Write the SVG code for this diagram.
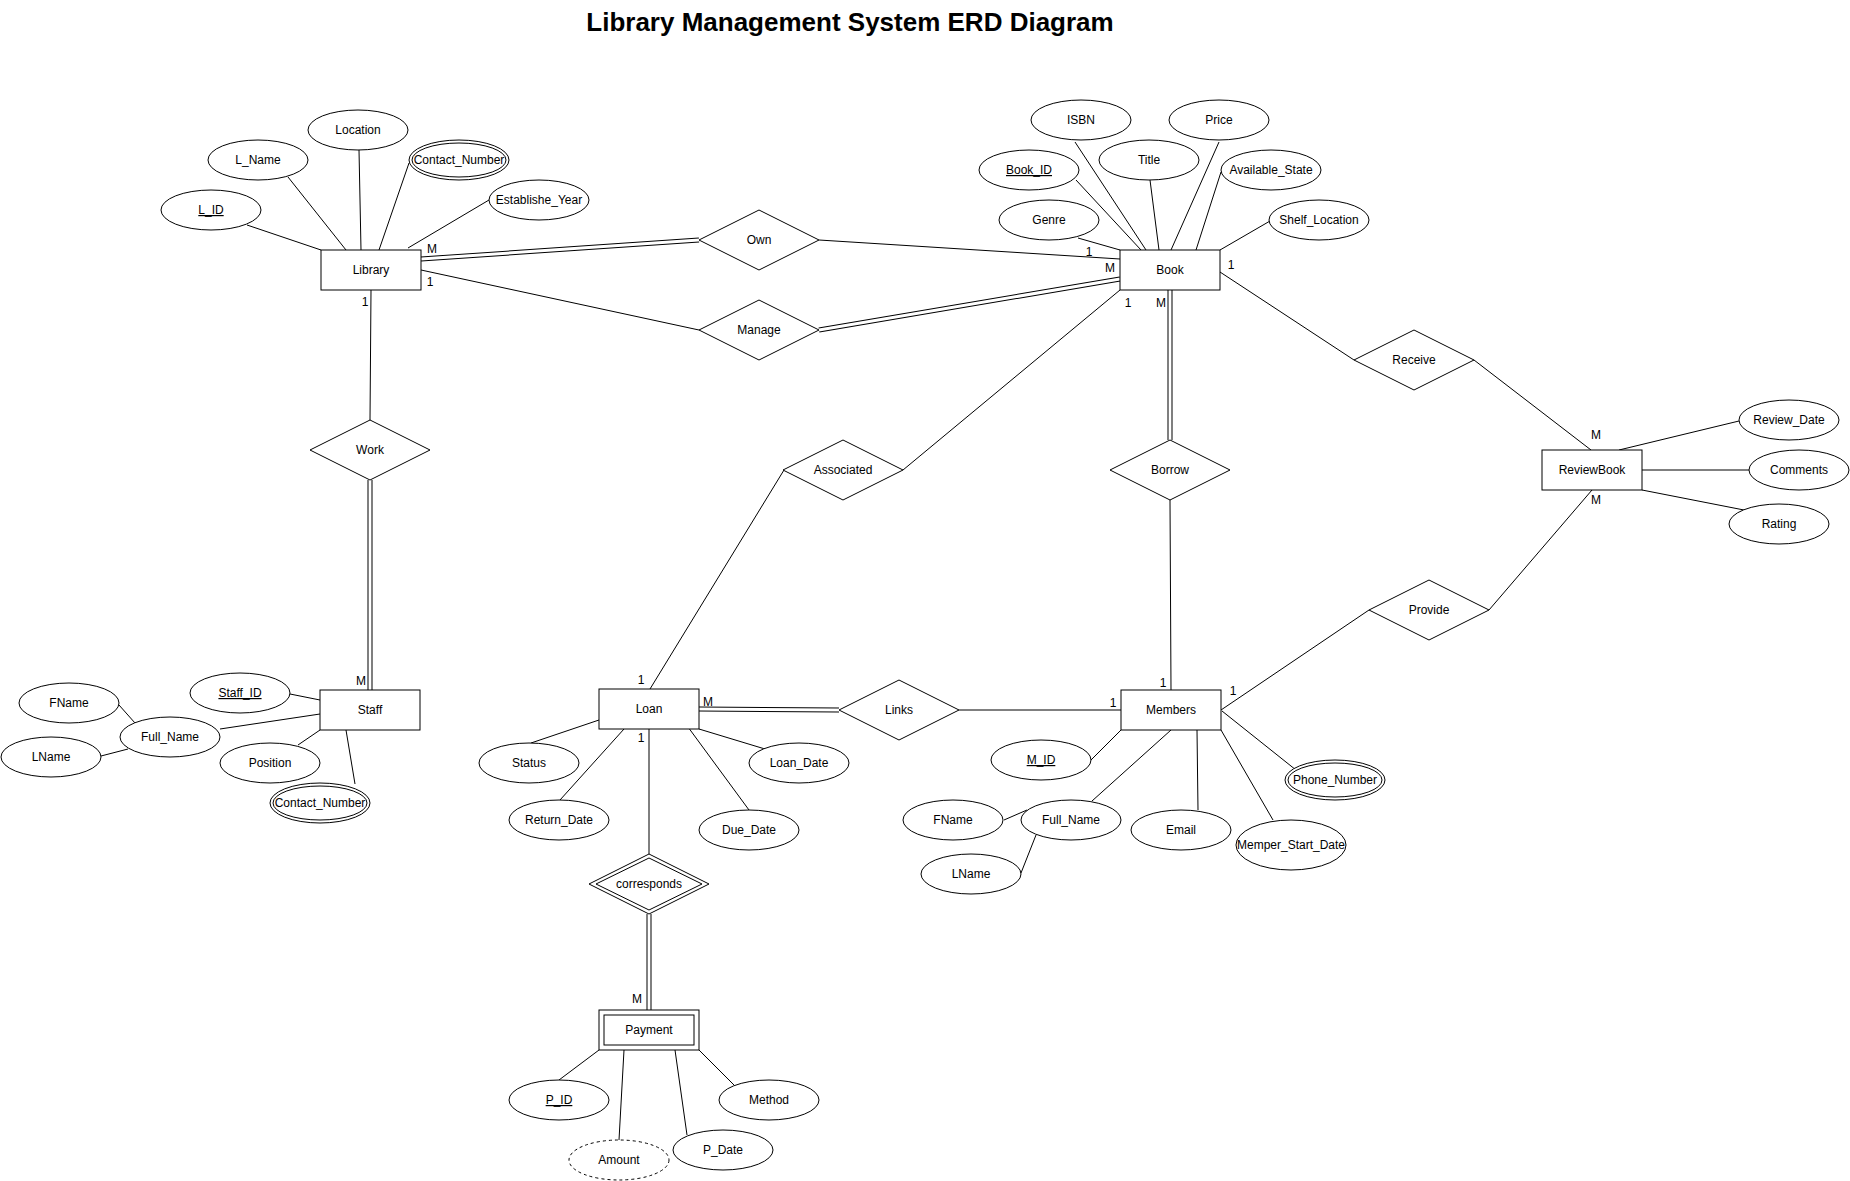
<svg xmlns="http://www.w3.org/2000/svg" width="1850" height="1181" viewBox="0 0 1850 1181">
<style>
.bg{fill:#fff}
.e{fill:#fff;stroke:#000;stroke-width:1}
.dash{stroke-dasharray:3 3}
.t{font-family:"Liberation Sans",Arial,Helvetica,sans-serif;font-size:12px;fill:#000;text-anchor:middle}
.k{text-decoration:underline}
.title{font-family:"Liberation Sans",Arial,Helvetica,sans-serif;font-size:26px;font-weight:bold;fill:#000;text-anchor:middle}
.ln{stroke:#000;stroke-width:1;fill:none}
.dbo{stroke:#000;stroke-width:5;fill:none}
.dbi{stroke:#fff;stroke-width:3;fill:none}
</style>
<rect class="bg" x="0" y="0" width="1850" height="1181"/>
<text class="title" x="850" y="31">Library Management System ERD Diagram</text>

<g id="connectors">
  <!-- Library attributes -->
  <line class="ln" x1="247" y1="225" x2="321" y2="250"/>
  <line class="ln" x1="288" y1="177" x2="346" y2="250"/>
  <line class="ln" x1="359" y1="150" x2="361" y2="250"/>
  <line class="ln" x1="409" y1="163" x2="379" y2="250"/>
  <line class="ln" x1="489" y1="200" x2="408" y2="248"/>
  <!-- Library relations -->
  <line class="dbo" x1="421" y1="259" x2="699" y2="240"/>
  <line class="dbi" x1="421" y1="259" x2="699" y2="240"/>
  <line class="ln" x1="421" y1="270" x2="699" y2="330"/>
  <line class="ln" x1="371" y1="290" x2="370" y2="420"/>
  <!-- Book relations -->
  <line class="ln" x1="819" y1="240" x2="1120" y2="259"/>
  <line class="dbo" x1="819" y1="330" x2="1120" y2="279"/>
  <line class="dbi" x1="819" y1="330" x2="1120" y2="279"/>
  <!-- Book attributes -->
  <line class="ln" x1="1078" y1="238" x2="1120" y2="250"/>
  <line class="ln" x1="1076" y1="180" x2="1141" y2="250"/>
  <line class="ln" x1="1075" y1="142" x2="1146" y2="250"/>
  <line class="ln" x1="1150" y1="180" x2="1159" y2="250"/>
  <line class="ln" x1="1219" y1="142" x2="1171" y2="250"/>
  <line class="ln" x1="1221" y1="172" x2="1196" y2="250"/>
  <line class="ln" x1="1270" y1="221" x2="1220" y2="250"/>
  <line class="ln" x1="903" y1="470" x2="1120" y2="290"/>
  <line class="dbo" x1="1170" y1="290" x2="1170" y2="440"/>
  <line class="dbi" x1="1170" y1="290" x2="1170" y2="440"/>
  <line class="ln" x1="1220" y1="272" x2="1354" y2="360"/>
  <!-- ReviewBook -->
  <line class="ln" x1="1474" y1="360" x2="1591" y2="450"/>
  <line class="ln" x1="1619" y1="450" x2="1739" y2="421"/>
  <line class="ln" x1="1642" y1="470" x2="1749" y2="470"/>
  <line class="ln" x1="1642" y1="490" x2="1744" y2="510"/>
  <line class="ln" x1="1489" y1="610" x2="1592" y2="490"/>
  <!-- Members -->
  <line class="ln" x1="1170" y1="500" x2="1171" y2="690"/>
  <line class="ln" x1="959" y1="710" x2="1121" y2="710"/>
  <line class="ln" x1="1221" y1="710" x2="1369" y2="610"/>
  <line class="ln" x1="1091" y1="760" x2="1121" y2="730"/>
  <line class="ln" x1="1171" y1="730" x2="1092" y2="801"/>
  <line class="ln" x1="1197" y1="730" x2="1198" y2="810"/>
  <line class="ln" x1="1221" y1="730" x2="1273" y2="820"/>
  <line class="ln" x1="1222" y1="711" x2="1296" y2="770"/>
  <line class="ln" x1="1004" y1="820" x2="1027" y2="810"/>
  <line class="ln" x1="1021" y1="873" x2="1036" y2="835"/>
  <!-- Loan -->
  <line class="ln" x1="784" y1="470" x2="650" y2="689"/>
  <line class="dbo" x1="699" y1="709" x2="839" y2="710"/>
  <line class="dbi" x1="699" y1="709" x2="839" y2="710"/>
  <line class="ln" x1="531" y1="743" x2="599" y2="720"/>
  <line class="ln" x1="699" y1="729" x2="765" y2="749"/>
  <line class="ln" x1="624" y1="729" x2="560" y2="800"/>
  <line class="ln" x1="688" y1="727" x2="749" y2="810"/>
  <line class="ln" x1="649" y1="729" x2="649" y2="854"/>
  <line class="dbo" x1="649" y1="914" x2="649" y2="1010"/>
  <line class="dbi" x1="649" y1="914" x2="649" y2="1010"/>
  <!-- Payment -->
  <line class="ln" x1="559" y1="1080" x2="599" y2="1050"/>
  <line class="ln" x1="624" y1="1050" x2="619" y2="1140"/>
  <line class="ln" x1="675" y1="1050" x2="687" y2="1135"/>
  <line class="ln" x1="699" y1="1050" x2="734" y2="1085"/>
  <!-- Staff -->
  <line class="dbo" x1="370" y1="480" x2="370" y2="690"/>
  <line class="dbi" x1="370" y1="480" x2="370" y2="690"/>
  <line class="ln" x1="290" y1="694" x2="320" y2="700"/>
  <line class="ln" x1="220" y1="729" x2="320" y2="714"/>
  <line class="ln" x1="119" y1="705" x2="135" y2="723"/>
  <line class="ln" x1="101" y1="756" x2="128" y2="749"/>
  <line class="ln" x1="298" y1="745" x2="320" y2="730"/>
  <line class="ln" x1="346" y1="730" x2="355" y2="784"/>
  <!-- cardinality labels -->
  <text class="t" x="432" y="253">M</text>
  <text class="t" x="430" y="286">1</text>
  <text class="t" x="365" y="306">1</text>
  <text class="t" x="1089" y="256">1</text>
  <text class="t" x="1110" y="272">M</text>
  <text class="t" x="1128" y="307">1</text>
  <text class="t" x="1161" y="307">M</text>
  <text class="t" x="1231" y="269">1</text>
  <text class="t" x="1596" y="439">M</text>
  <text class="t" x="1596" y="504">M</text>
  <text class="t" x="1163" y="687">1</text>
  <text class="t" x="1113" y="707">1</text>
  <text class="t" x="1233" y="695">1</text>
  <text class="t" x="641" y="684">1</text>
  <text class="t" x="708" y="706">M</text>
  <text class="t" x="641" y="742">1</text>
  <text class="t" x="361" y="685">M</text>
  <text class="t" x="637" y="1003">M</text>
</g>

<!-- Entities -->
<g id="library"><rect class="e" x="321" y="250" width="100" height="40"/><text class="t" x="371" y="274">Library</text></g>
<g id="book"><rect class="e" x="1120" y="250" width="100" height="40"/><text class="t" x="1170" y="274">Book</text></g>
<g id="reviewbook"><rect class="e" x="1542" y="450" width="100" height="40"/><text class="t" x="1592" y="474">ReviewBook</text></g>
<g id="staff"><rect class="e" x="320" y="690" width="100" height="40"/><text class="t" x="370" y="714">Staff</text></g>
<g id="loan"><rect class="e" x="599" y="689" width="100" height="40"/><text class="t" x="649" y="713">Loan</text></g>
<g id="members"><rect class="e" x="1121" y="690" width="100" height="40"/><text class="t" x="1171" y="714">Members</text></g>
<g id="payment"><rect class="e" x="599" y="1010" width="100" height="40"/><rect class="e" x="604" y="1015" width="90" height="30"/><text class="t" x="649" y="1034">Payment</text></g>

<!-- Relationships -->
<g id="own"><polygon class="e" points="759,210 819,240 759,270 699,240"/><text class="t" x="759" y="244">Own</text></g>
<g id="manage"><polygon class="e" points="759,300 819,330 759,360 699,330"/><text class="t" x="759" y="334">Manage</text></g>
<g id="work"><polygon class="e" points="370,420 430,450 370,480 310,450"/><text class="t" x="370" y="454">Work</text></g>
<g id="associated"><polygon class="e" points="843,440 903,470 843,500 783,470"/><text class="t" x="843" y="474">Associated</text></g>
<g id="borrow"><polygon class="e" points="1170,440 1230,470 1170,500 1110,470"/><text class="t" x="1170" y="474">Borrow</text></g>
<g id="receive"><polygon class="e" points="1414,330 1474,360 1414,390 1354,360"/><text class="t" x="1414" y="364">Receive</text></g>
<g id="provide"><polygon class="e" points="1429,580 1489,610 1429,640 1369,610"/><text class="t" x="1429" y="614">Provide</text></g>
<g id="links"><polygon class="e" points="899,680 959,710 899,740 839,710"/><text class="t" x="899" y="714">Links</text></g>
<g id="corresponds"><polygon class="e" points="649,854 709,884 649,914 589,884"/><polygon class="e" points="649,858 702,884 649,910 596,884"/><text class="t" x="649" y="888">corresponds</text></g>

<!-- Attributes -->
<g id="l_id"><ellipse class="e" cx="211" cy="210" rx="50" ry="20"/><text class="t k" x="211" y="214">L_ID</text></g>
<g id="l_name"><ellipse class="e" cx="258" cy="160" rx="50" ry="20"/><text class="t" x="258" y="164">L_Name</text></g>
<g id="location"><ellipse class="e" cx="358" cy="130" rx="50" ry="20"/><text class="t" x="358" y="134">Location</text></g>
<g id="lib_contact"><ellipse class="e" cx="459" cy="160" rx="50" ry="20"/><ellipse class="e" cx="459" cy="160" rx="47" ry="17"/><text class="t" x="459" y="164">Contact_Number</text></g>
<g id="establishe_year"><ellipse class="e" cx="539" cy="200" rx="50" ry="20"/><text class="t" x="539" y="204">Establishe_Year</text></g>

<g id="isbn"><ellipse class="e" cx="1081" cy="120" rx="50" ry="20"/><text class="t" x="1081" y="124">ISBN</text></g>
<g id="price"><ellipse class="e" cx="1219" cy="120" rx="50" ry="20"/><text class="t" x="1219" y="124">Price</text></g>
<g id="title"><ellipse class="e" cx="1149" cy="160" rx="50" ry="20"/><text class="t" x="1149" y="164">Title</text></g>
<g id="book_id"><ellipse class="e" cx="1029" cy="170" rx="50" ry="20"/><text class="t k" x="1029" y="174">Book_ID</text></g>
<g id="available_state"><ellipse class="e" cx="1271" cy="170" rx="50" ry="20"/><text class="t" x="1271" y="174">Available_State</text></g>
<g id="genre"><ellipse class="e" cx="1049" cy="220" rx="50" ry="20"/><text class="t" x="1049" y="224">Genre</text></g>
<g id="shelf_location"><ellipse class="e" cx="1319" cy="220" rx="50" ry="20"/><text class="t" x="1319" y="224">Shelf_Location</text></g>

<g id="review_date"><ellipse class="e" cx="1789" cy="420" rx="50" ry="20"/><text class="t" x="1789" y="424">Review_Date</text></g>
<g id="comments"><ellipse class="e" cx="1799" cy="470" rx="50" ry="20"/><text class="t" x="1799" y="474">Comments</text></g>
<g id="rating"><ellipse class="e" cx="1779" cy="524" rx="50" ry="20"/><text class="t" x="1779" y="528">Rating</text></g>

<g id="staff_id"><ellipse class="e" cx="240" cy="693" rx="50" ry="20"/><text class="t k" x="240" y="697">Staff_ID</text></g>
<g id="staff_full_name"><ellipse class="e" cx="170" cy="737" rx="50" ry="20"/><text class="t" x="170" y="741">Full_Name</text></g>
<g id="staff_fname"><ellipse class="e" cx="69" cy="703" rx="50" ry="20"/><text class="t" x="69" y="707">FName</text></g>
<g id="staff_lname"><ellipse class="e" cx="51" cy="757" rx="50" ry="20"/><text class="t" x="51" y="761">LName</text></g>
<g id="position"><ellipse class="e" cx="270" cy="763" rx="50" ry="20"/><text class="t" x="270" y="767">Position</text></g>
<g id="staff_contact"><ellipse class="e" cx="320" cy="803" rx="50" ry="20"/><ellipse class="e" cx="320" cy="803" rx="47" ry="17"/><text class="t" x="320" y="807">Contact_Number</text></g>

<g id="status"><ellipse class="e" cx="529" cy="763" rx="50" ry="20"/><text class="t" x="529" y="767">Status</text></g>
<g id="loan_date"><ellipse class="e" cx="799" cy="763" rx="50" ry="20"/><text class="t" x="799" y="767">Loan_Date</text></g>
<g id="return_date"><ellipse class="e" cx="559" cy="820" rx="50" ry="20"/><text class="t" x="559" y="824">Return_Date</text></g>
<g id="due_date"><ellipse class="e" cx="749" cy="830" rx="50" ry="20"/><text class="t" x="749" y="834">Due_Date</text></g>

<g id="m_id"><ellipse class="e" cx="1041" cy="760" rx="50" ry="20"/><text class="t k" x="1041" y="764">M_ID</text></g>
<g id="mem_full_name"><ellipse class="e" cx="1071" cy="820" rx="50" ry="20"/><text class="t" x="1071" y="824">Full_Name</text></g>
<g id="mem_fname"><ellipse class="e" cx="953" cy="820" rx="50" ry="20"/><text class="t" x="953" y="824">FName</text></g>
<g id="mem_lname"><ellipse class="e" cx="971" cy="874" rx="50" ry="20"/><text class="t" x="971" y="878">LName</text></g>
<g id="email"><ellipse class="e" cx="1181" cy="830" rx="50" ry="20"/><text class="t" x="1181" y="834">Email</text></g>
<g id="memper_start_date"><ellipse class="e" cx="1291" cy="845" rx="55" ry="25"/><text class="t" x="1291" y="849">Memper_Start_Date</text></g>
<g id="phone_number"><ellipse class="e" cx="1335" cy="780" rx="50" ry="20"/><ellipse class="e" cx="1335" cy="780" rx="47" ry="17"/><text class="t" x="1335" y="784">Phone_Number</text></g>

<g id="p_id"><ellipse class="e" cx="559" cy="1100" rx="50" ry="20"/><text class="t k" x="559" y="1104">P_ID</text></g>
<g id="method"><ellipse class="e" cx="769" cy="1100" rx="50" ry="20"/><text class="t" x="769" y="1104">Method</text></g>
<g id="amount"><ellipse class="e dash" cx="619" cy="1160" rx="50" ry="20"/><text class="t" x="619" y="1164">Amount</text></g>
<g id="p_date"><ellipse class="e" cx="723" cy="1150" rx="50" ry="20"/><text class="t" x="723" y="1154">P_Date</text></g>
</svg>
